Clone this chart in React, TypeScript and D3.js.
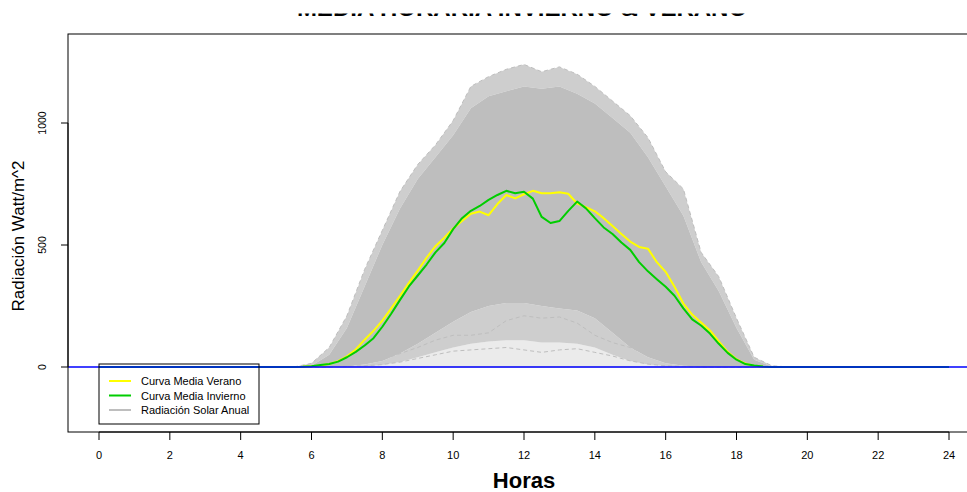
import React from "react";
import * as d3 from "d3";

// Hour grid (quarter hours through daylight) for the two seasonal mean curves
const horasMedia = [0, 5.5, 5.75, 6, 6.25, 6.5, 6.75, 7, 7.25, 7.5, 7.75, 8, 8.25, 8.5, 8.75, 9, 9.25, 9.5, 9.75, 10, 10.25, 10.5, 10.75, 11, 11.25, 11.5, 11.75, 12, 12.25, 12.5, 12.75, 13, 13.25, 13.5, 13.75, 14, 14.25, 14.5, 14.75, 15, 15.25, 15.5, 15.75, 16, 16.25, 16.5, 16.75, 17, 17.25, 17.5, 17.75, 18, 18.25, 18.5, 18.75, 19, 24];

const mediaVerano = [0, 0, 1, 3, 6, 12, 24, 44, 72, 112, 148, 190, 240, 292, 345, 395, 448, 495, 530, 568, 598, 628, 637, 622, 668, 705, 691, 708, 722, 712, 712, 716, 710, 670, 655, 638, 610, 578, 545, 514, 492, 485, 430, 390, 329, 260, 215, 182, 150, 105, 62, 32, 14, 4, 1, 0, 0];

const mediaInvierno = [0, 0, 1, 3, 8, 12, 22, 40, 62, 88, 118, 165, 218, 275, 330, 375, 420, 470, 508, 565, 610, 640, 660, 685, 705, 722, 712, 718, 690, 615, 590, 598, 640, 678, 650, 610, 572, 545, 510, 480, 430, 392, 360, 329, 292, 240, 195, 170, 137, 95, 58, 30, 12, 6, 2, 0, 0];

// Half-hour grid for the spread of all daily radiation records of the year
const horasDia = [5.5, 6, 6.5, 7, 7.5, 8, 8.5, 9, 9.5, 10, 10.5, 11, 11.5, 12, 12.5, 13, 13.5, 14, 14.5, 15, 15.5, 16, 16.5, 17, 17.5, 18, 18.5, 19, 19.5];

const anualMaximo = [0, 15, 80, 210, 400, 560, 720, 830, 910, 1010, 1150, 1190, 1220, 1240, 1210, 1230, 1200, 1150, 1090, 1030, 940, 800, 730, 470, 370, 200, 40, 5, 0];
const anualDensoAlto = [0, 5, 50, 160, 330, 500, 650, 770, 860, 950, 1060, 1110, 1130, 1150, 1140, 1150, 1120, 1080, 1020, 960, 860, 740, 620, 430, 310, 160, 30, 2, 0];
const anualDensoBajo = [0, 0, 0, 3, 10, 25, 55, 95, 140, 185, 225, 250, 262, 262, 250, 240, 232, 200, 140, 80, 40, 15, 5, 2, 0, 0, 0, 0, 0];
const anualDisperso = [0, 0, 0, 0, 2, 8, 20, 40, 60, 80, 95, 105, 110, 110, 100, 100, 95, 80, 50, 25, 10, 4, 1, 0, 0, 0, 0, 0, 0];
const diaNublado1 = [0, 0, 0, 2, 5, 10, 20, 35, 50, 65, 70, 75, 80, 70, 60, 70, 75, 60, 45, 25, 12, 5, 2, 0, 0, 0, 0, 0, 0];
const diaNublado2 = [0, 0, 0, 5, 15, 30, 55, 80, 110, 130, 130, 140, 190, 210, 200, 205, 180, 130, 100, 80, 50, 30, 10, 3, 0, 0, 0, 0, 0];

const xTicks = [0, 2, 4, 6, 8, 10, 12, 14, 16, 18, 20, 22, 24];
const yTicks = [0, 500, 1000];

const titulo = "MEDIA HORARIA INVIERNO & VERANO";
const leyenda = [
  { label: "Curva Media Verano", color: "#ffff00" },
  { label: "Curva Media Invierno", color: "#00cd00" },
  { label: "Radiación Solar Anual", color: "#bebebe" },
];

const W = 967;
const H = 492;
const FONT = "'Liberation Sans', Arial, sans-serif";

export default function App() {
  const x = d3.scaleLinear().domain([0, 24]).range([99, 949]);
  const y = d3.scaleLinear().domain([0, 1000]).range([367, 123]);
  const box = { left: 68, top: 34, right: 979, bottom: 432 };

  const linea = (xs: number[], ys: number[]) =>
    d3.line<number>().x((_, i) => x(xs[i])).y((v) => y(v))(ys) || "";
  const banda = (lo: number[], hi: number[]) =>
    d3
      .area<number>()
      .x((_, i) => x(horasDia[i]))
      .y0((_, i) => y(lo[i]))
      .y1((v) => y(v))(hi) || "";
  const ceros = horasDia.map(() => 0);

  // the title sits above the top edge; only its lowest strip is in view
  const tituloTop = 13.5;

  return (
    <svg
      width={W}
      height={H}
      style={{ position: "absolute", left: 0, top: 0, background: "#fff" }}
      fontFamily={FONT}
    >
      <defs>
        <clipPath id="areaGrafico">
          <rect x={box.left} y={box.top} width={box.right - box.left} height={box.bottom - box.top} />
        </clipPath>
      </defs>

      <svg x={0} y={tituloTop} width={W} height={6} overflow="hidden">
        <text
          x={522}
          y={15.5 - tituloTop}
          textAnchor="middle"
          fontSize={24}
          fontWeight="bold"
        >
          {titulo}
        </text>
      </svg>

      <g clipPath="url(#areaGrafico)">
        {/* annual spread of daily radiation curves */}
        <path d={banda(ceros, anualDisperso)} fill="#bebebe" opacity={0.3} />
        <path d={banda(anualDisperso, anualDensoBajo)} fill="#bebebe" opacity={0.75} />
        <path d={banda(anualDensoAlto, anualMaximo)} fill="#bebebe" opacity={0.75} />
        <path d={banda(anualDensoBajo, anualDensoAlto)} fill="#bebebe" />
        <path d={linea(horasDia, anualMaximo)} fill="none" stroke="#bebebe" strokeWidth={1} strokeDasharray="4,3" />
        <path d={linea(horasDia, diaNublado1)} fill="none" stroke="#bebebe" strokeWidth={1} strokeDasharray="4,3" />
        <path d={linea(horasDia, diaNublado2)} fill="none" stroke="#bebebe" strokeWidth={1} strokeDasharray="4,3" />
        <line x1={x(0)} x2={x(24)} y1={y(0)} y2={y(0)} stroke="#bebebe" strokeWidth={1} />

        <path d={linea(horasMedia, mediaVerano)} fill="none" stroke="#ffff00" strokeWidth={2} strokeLinejoin="round" />
        <path d={linea(horasMedia, mediaInvierno)} fill="none" stroke="#00cd00" strokeWidth={2} strokeLinejoin="round" />

        <line x1={box.left} x2={box.right} y1={y(0)} y2={y(0)} stroke="#0000ff" strokeWidth={1.5} />
      </g>

      {/* frame */}
      <rect
        x={box.left}
        y={box.top}
        width={box.right - box.left}
        height={box.bottom - box.top}
        fill="none"
        stroke="#000"
        strokeWidth={1}
      />

      {/* x axis */}
      <g>
        <line x1={x(0)} x2={x(24)} y1={box.bottom} y2={box.bottom} stroke="#000" />
        {xTicks.map((t) => (
          <g key={t}>
            <line x1={x(t)} x2={x(t)} y1={box.bottom} y2={box.bottom + 8} stroke="#000" />
            <text x={x(t)} y={box.bottom + 27} textAnchor="middle" fontSize={11}>
              {t}
            </text>
          </g>
        ))}
        <text x={524} y={488} textAnchor="middle" fontSize={22} fontWeight="bold">
          Horas
        </text>
      </g>

      {/* y axis */}
      <g>
        <line x1={box.left} x2={box.left} y1={y(0)} y2={y(1000)} stroke="#000" />
        {yTicks.map((t) => (
          <g key={t}>
            <line x1={box.left - 7} x2={box.left} y1={y(t)} y2={y(t)} stroke="#000" />
            <text
              transform={`translate(46,${y(t)}) rotate(-90)`}
              textAnchor="middle"
              fontSize={10.5}
            >
              {t}
            </text>
          </g>
        ))}
        <text
          transform={`translate(24,${(box.top + box.bottom) / 2 + 3}) rotate(-90)`}
          textAnchor="middle"
          fontSize={17}
        >
          Radiación Watt/m^2
        </text>
      </g>

      {/* legend */}
      <g>
        <rect x={99} y={364} width={160} height={60} fill="none" stroke="#000" strokeWidth={1} />
        {leyenda.map((d, i) => (
          <g key={d.label}>
            <line
              x1={109}
              x2={131}
              y1={381 + i * 14.5}
              y2={381 + i * 14.5}
              stroke={d.color}
              strokeWidth={2}
            />
            <text x={141} y={381 + i * 14.5 + 4} fontSize={11}>
              {d.label}
            </text>
          </g>
        ))}
      </g>
    </svg>
  );
}
